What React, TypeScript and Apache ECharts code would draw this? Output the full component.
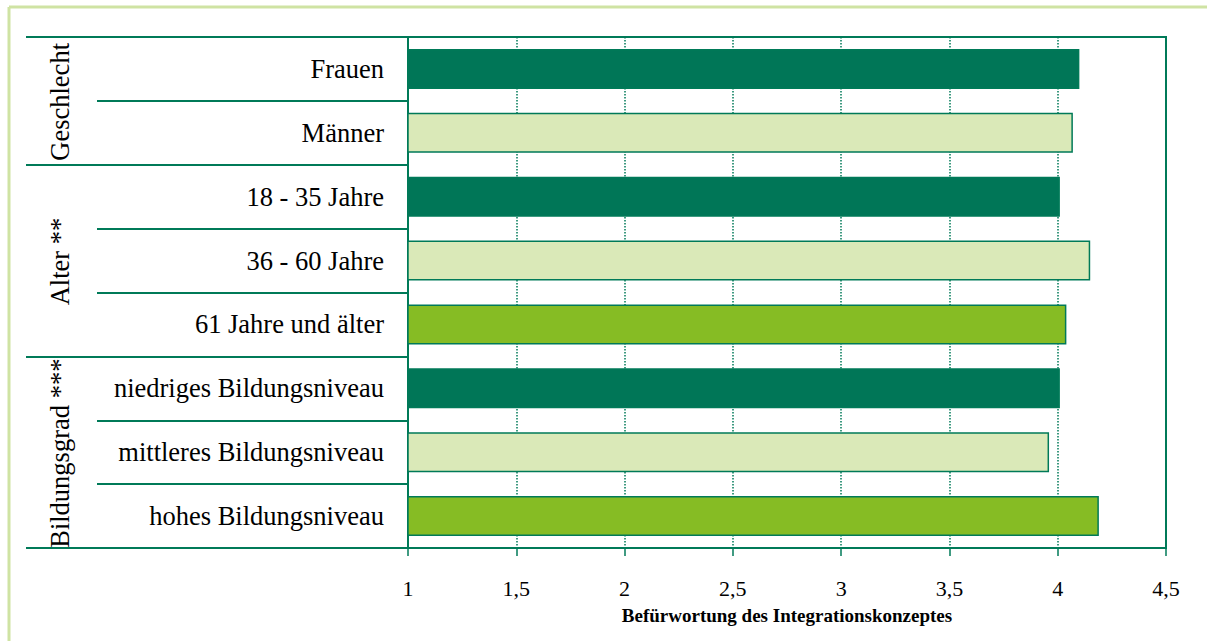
import React, { useEffect, useRef } from "react";
import * as echarts from "echarts";

const categories = [
  "Frauen",
  "Männer",
  "18 - 35 Jahre",
  "36 - 60 Jahre",
  "61 Jahre und älter",
  "niedriges Bildungsniveau",
  "mittleres Bildungsniveau",
  "hohes Bildungsniveau",
];
const values = [4.1, 4.07, 4.01, 4.15, 4.04, 4.01, 3.96, 4.19];
const colorKeys = ["dark", "light", "dark", "light", "lime", "dark", "light", "lime"];
const groups = ["Geschlecht", "Alter **", "Bildungsgrad ***"];
const groupStarts = [0, 2, 5];
const groupSizes = [2, 3, 3];
const xMin = 1;
const xMax = 4.5;
const xStep = 0.5;
const xTitle = "Befürwortung des Integrationskonzeptes";

const palette: Record<string, string> = {
  dark: "#007657",
  light: "#dae9b8",
  lime: "#86bc24",
};
const lineColor = "#007a58";
const serif = '"Liberation Serif", "Times New Roman", serif';

export default function App() {
  const ref = useRef<HTMLDivElement>(null);
  useEffect(() => {
    document.body.style.margin = "0";
    const chart = echarts.init(ref.current!, null, { renderer: "svg" });
    chart.setOption({
      animation: false,
      backgroundColor: "#ffffff",
      grid: {
        left: 408,
        right: 41,
        top: 37,
        bottom: 93,
        show: true,
        borderColor: lineColor,
        borderWidth: 2,
        containLabel: false,
      },
      xAxis: {
        type: "value",
        min: xMin,
        max: xMax,
        interval: xStep,
        position: "bottom",
        axisLine: { show: true, lineStyle: { color: lineColor, width: 2 } },
        axisTick: { show: true, inside: false, length: 8, lineStyle: { color: lineColor, width: 1.5 } },
        axisLabel: {
          formatter: (v: number) => String(v).replace(".", ","),
          fontSize: 22,
          fontFamily: serif,
          color: "#000",
          margin: 29,
        },
        splitLine: { show: true, lineStyle: { type: "dotted", color: lineColor, width: 1.5 } },
        name: xTitle,
        nameLocation: "middle",
        nameGap: 58,
        nameTextStyle: { fontWeight: "bold", fontSize: 19, fontFamily: serif, color: "#000" },
      },
      yAxis: [
        {
          type: "category",
          data: categories,
          inverse: true,
          position: "left",
          axisLine: { show: true, lineStyle: { color: lineColor, width: 2 } },
          axisTick: { show: true, interval: 0, length: 311, lineStyle: { color: lineColor, width: 2 } },
          axisLabel: { interval: 0, fontSize: 26.5, fontFamily: serif, color: "#000", margin: 24 },
          splitLine: { show: false },
        },
        {
          type: "category",
          data: categories,
          inverse: true,
          position: "left",
          axisLine: { show: false },
          axisTick: {
            show: true,
            interval: (i: number) => groupStarts.includes(i),
            length: 382,
            lineStyle: { color: lineColor, width: 2 },
          },
          axisLabel: { show: false },
          splitLine: { show: false },
        },
      ],
      series: [
        {
          type: "bar",
          yAxisIndex: 0,
          barWidth: 40,
          data: values.map((v, i) => ({ value: v, itemStyle: { color: palette[colorKeys[i]] } })),
          itemStyle: { borderColor: lineColor, borderWidth: 1.5 },
        },
      ],
    });

    const groupTexts = groups.map((name, k) => {
      const a = chart.convertToPixel({ yAxisIndex: 0 }, categories[groupStarts[k]]) as number;
      const b = chart.convertToPixel(
        { yAxisIndex: 0 },
        categories[groupStarts[k] + groupSizes[k] - 1]
      ) as number;
      return {
        type: "text",
        x: 60,
        y: (a + b) / 2 + 1,
        rotation: Math.PI / 2,
        style: {
          text: name,
          font: '26.5px "Liberation Serif", "Times New Roman", serif',
          align: "center",
          verticalAlign: "middle",
          fill: "#000",
        },
      };
    });
    chart.setOption({
      graphic: [
        { type: "line", shape: { x1: 9, y1: 7, x2: 1207, y2: 7 }, style: { stroke: "#cfe3a3", lineWidth: 3 } },
        { type: "line", shape: { x1: 9, y1: 7, x2: 9, y2: 641 }, style: { stroke: "#cfe3a3", lineWidth: 3 } },
        ...groupTexts,
      ],
    });
    return () => chart.dispose();
  }, []);
  return <div ref={ref} style={{ position: "absolute", left: 0, top: 0, width: 1207, height: 641 }} />;
}
